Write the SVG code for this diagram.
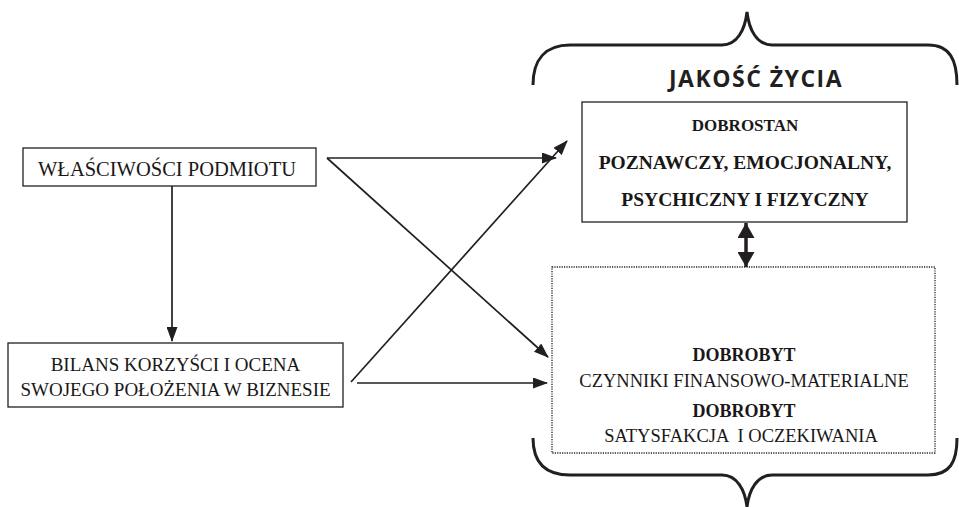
<svg xmlns="http://www.w3.org/2000/svg" width="959" height="507" viewBox="0 0 959 507">
<style>
.bg{fill:#fff}
.box{fill:#fff;stroke:#231f20;stroke-width:1.3}
.dot{fill:#fff;stroke:#231f20;stroke-width:1.3;stroke-dasharray:1.2 1.2}
.brace{fill:none;stroke:#231f20;stroke-width:3}
.t{font-family:"Liberation Serif","Times New Roman",serif;fill:#1a1718;text-anchor:middle;white-space:pre}
.b{font-weight:bold}
.h{font-family:"Open Sans","Noto Sans",sans-serif;font-weight:bold;fill:#231f20;text-anchor:middle}
.ln{stroke:#231f20;stroke-width:1.7;fill:none}
</style>
<defs>
<marker id="ah" markerWidth="15" markerHeight="11" refX="14" refY="5.5" orient="auto" markerUnits="userSpaceOnUse">
<path d="M0,0 L15,5.5 L0,11 Z" fill="#231f20"/>
</marker>
<marker id="ah2" markerWidth="17" markerHeight="17" refX="15" refY="8.5" orient="auto-start-reverse" markerUnits="userSpaceOnUse">
<path d="M0,0 L15,8.5 L0,17 Z" fill="#231f20"/>
</marker>
</defs>
<rect class="bg" width="959" height="507"/>
<g id="jakosc">
<path class="brace" d="M533,85 C533,60 545,45 570,45 L722,45 C737,45 745,30 747,12 C749,30 757,45 772,45 L928,45 C950,45 957,60 957,85"/>
<path class="brace" d="M533,438 C533,462 545,475 570,475 L722,475 C737,475 745,490 747,507 C749,490 757,475 772,475 L928,475 C950,475 957,462 957,438"/>
<text class="h" x="756" y="87" font-size="23" letter-spacing="1.5">JAKOŚĆ ŻYCIA</text>
</g>
<g id="wlasciwosci">
<rect class="box" x="23" y="148" width="293" height="38"/>
<text class="t" x="167" y="176" font-size="20.5">WŁAŚCIWOŚCI PODMIOTU</text>
</g>
<g id="bilans">
<rect class="box" x="8" y="343" width="335" height="64"/>
<text class="t" x="175.5" y="371" font-size="19">BILANS KORZYŚCI I OCENA</text>
<text class="t" x="175.5" y="396" font-size="19">SWOJEGO POŁOŻENIA W BIZNESIE</text>
</g>
<g id="dobrostan">
<rect class="box" x="582" y="102" width="325" height="120"/>
<text class="t b" x="745" y="131" font-size="17">DOBROSTAN</text>
<text class="t b" x="745" y="169" font-size="19.5">POZNAWCZY, EMOCJONALNY,</text>
<text class="t b" x="745" y="206" font-size="19.5">PSYCHICZNY I FIZYCZNY</text>
</g>
<g id="dobrobyt">
<rect class="dot" x="552" y="267" width="383" height="186"/>
<text class="t b" x="744" y="361" font-size="18">DOBROBYT</text>
<text class="t" x="744" y="387" font-size="18.5">CZYNNIKI FINANSOWO-MATERIALNE</text>
<text class="t b" x="744" y="417" font-size="18">DOBROBYT</text>
<text class="t" x="741" y="442" font-size="18.5">SATYSFAKCJA  I OCZEKIWANIA</text>
</g>
<g id="connectors">
<line class="ln" x1="172" y1="186" x2="172" y2="341" marker-end="url(#ah)"/>
<line class="ln" x1="327" y1="158" x2="556" y2="158" marker-end="url(#ah)"/>
<line class="ln" x1="327" y1="158" x2="548" y2="357" marker-end="url(#ah)"/>
<line class="ln" x1="351" y1="382" x2="567" y2="141" marker-end="url(#ah)"/>
<line class="ln" x1="357" y1="383" x2="547" y2="383" marker-end="url(#ah)"/>
<line stroke="#231f20" stroke-width="3.5" x1="746" y1="223" x2="746" y2="267" marker-start="url(#ah2)" marker-end="url(#ah2)"/>
</g>
</svg>
